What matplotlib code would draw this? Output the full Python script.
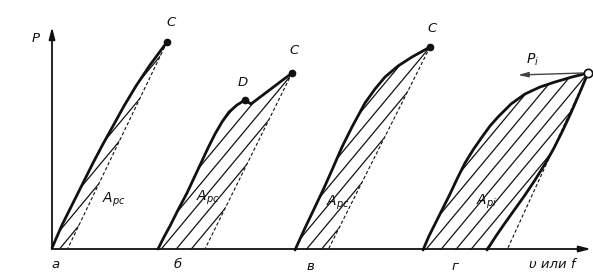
import numpy as np
import matplotlib
matplotlib.use("Agg")
import matplotlib.pyplot as plt
from matplotlib.patches import Polygon

# ---- data (pixel-space coordinates) ----
# curve a (elastic)
a_x = [52, 62, 73, 83, 93, 103, 113, 124, 136, 150, 167]
a_y = [248, 225, 203, 183, 163, 144, 126, 106, 86, 65, 42]
a_unload = [(167, 42), (68, 248)]

# curve б (with point D)
b_x = [158, 164, 170, 178, 187, 194, 201, 208, 215, 222, 229, 237, 245, 251, 292]
b_y = [249, 237, 226, 210, 193, 178, 163, 148, 134, 122, 112, 105, 100, 104, 73]
b_unload = [(292, 73), (205, 249)]
b_D_index = 12

# curve в
c_x = [295, 305, 315, 324, 332, 342, 352, 365, 375, 385, 398, 412, 430]
c_y = [250, 228, 207, 188, 170, 147, 127, 103, 89, 77, 66, 57, 47]
c_unload = [(430, 47), (328, 250)]

# curve г (loading and unloading)
d_up_x = [423, 429, 436, 443, 450, 457, 465, 473, 482, 490, 498, 511, 525, 540, 555, 572, 588]
d_up_y = [250, 236, 222, 208, 194, 179, 163, 150, 137, 126, 117, 104, 94, 87, 82, 77, 73]
d_dn_x = [487, 496, 505, 515, 525, 535, 545, 554, 562, 570, 577, 583, 588]
d_dn_y = [250, 236, 223, 209, 195, 180, 164, 148, 132, 115, 99, 85, 73]
d_unload = [(588, 73), (507, 250)]

axis_y = 249
origin_x = 52

fig = plt.figure(figsize=(5.93, 2.73), dpi=100)
ax = fig.add_axes([0, 0, 1, 1])
ax.set_xlim(0, 593)
ax.set_ylim(273, 0)
ax.axis('off')

INK = '#111111'

def hatch(pts, spacing=15, slope=1.2):
    poly = Polygon(pts, closed=True, fc='none', ec='none')
    ax.add_patch(poly)
    xs = [p[0] for p in pts]
    ys = [p[1] for p in pts]
    h = max(ys) - min(ys) + 20
    x0 = min(xs) - h / slope
    for xs0 in np.arange(x0, max(xs) + 5, spacing):
        ln, = ax.plot([xs0, xs0 + h / slope], [max(ys) + 2, max(ys) + 2 - h],
                      color=INK, lw=0.9, solid_capstyle='butt')
        ln.set_clip_path(poly)

# axes
ax.annotate('', xy=(origin_x, 27), xytext=(origin_x, axis_y),
            arrowprops=dict(arrowstyle='-|>,head_length=0.7,head_width=0.18',
                            lw=1.3, color=INK, shrinkA=0, shrinkB=0))
ax.annotate('', xy=(591, axis_y), xytext=(origin_x, axis_y),
            arrowprops=dict(arrowstyle='-|>,head_length=0.7,head_width=0.18',
                            lw=1.3, color=INK, shrinkA=0, shrinkB=0))

# curve a
hatch(list(zip(a_x, a_y)) + [a_unload[1]])
ax.plot(a_x, a_y, color=INK, lw=2.0, solid_capstyle='round', solid_joinstyle='round')
ax.plot(*zip(*a_unload), color=INK, lw=0.8, ls=(0, (3, 2)))
ax.plot(a_x[-1], a_y[-1], 'o', color=INK, ms=4.5)

# curve б
hatch(list(zip(b_x, b_y)) + [b_unload[1]])
ax.plot(b_x, b_y, color=INK, lw=2.0, solid_capstyle='round', solid_joinstyle='round')
ax.plot(*zip(*b_unload), color=INK, lw=0.8, ls=(0, (3, 2)))
ax.plot(b_x[b_D_index], b_y[b_D_index], 'o', color=INK, ms=4.5)
ax.plot(b_x[-1], b_y[-1], 'o', color=INK, ms=4.5)

# curve в
hatch(list(zip(c_x, c_y)) + [c_unload[1]])
ax.plot(c_x, c_y, color=INK, lw=2.0, solid_capstyle='round', solid_joinstyle='round')
ax.plot(*zip(*c_unload), color=INK, lw=0.8, ls=(0, (3, 2)))
ax.plot(c_x[-1], c_y[-1], 'o', color=INK, ms=4.5)

# curve г
hatch(list(zip(d_up_x, d_up_y)) + list(zip(d_dn_x, d_dn_y))[::-1])
ax.plot(d_up_x, d_up_y, color=INK, lw=2.0, solid_capstyle='round', solid_joinstyle='round')
ax.plot(d_dn_x, d_dn_y, color=INK, lw=2.0, solid_capstyle='round', solid_joinstyle='round')
ax.plot(*zip(*d_unload), color=INK, lw=0.8, ls=(0, (3, 2)))
ax.annotate('', xy=(518, 75), xytext=(583, 73),
            arrowprops=dict(arrowstyle='-|>,head_length=0.6,head_width=0.15',
                            lw=1.0, color='#444444', shrinkA=0, shrinkB=0))
ax.plot(d_up_x[-1], d_up_y[-1], 'o', mfc='white', mec=INK, mew=1.2, ms=6,
        clip_on=False, zorder=5)

# labels
tk = dict(color=INK, style='italic', ha='center', va='center', fontsize=9.5)
mk = dict(color=INK, ha='center', va='center', fontsize=10)
ax.text(36, 39, 'P', **tk)
ax.text(171, 23, 'C', **tk)
ax.text(294, 50, 'C', **tk)
ax.text(243, 83, 'D', **tk)
ax.text(432, 29, 'C', **tk)
ax.text(533, 60, r'$P_i$', **mk)
ax.text(114, 200, r'$A_{pc}$', **mk)
ax.text(208, 198, r'$A_{pc}$', **mk)
ax.text(338, 203, r'$A_{pc}$', **mk)
ax.text(487, 202, r'$A_{pi}$', **mk)
ax.text(56, 265, 'а', **tk)
ax.text(178, 265, 'б', **tk)
ax.text(310, 266, 'в', **tk)
ax.text(455, 266, 'г', **tk)
ax.text(552, 265, 'υ или f', **tk)

fig.savefig('out.png', dpi=100, facecolor='white')
